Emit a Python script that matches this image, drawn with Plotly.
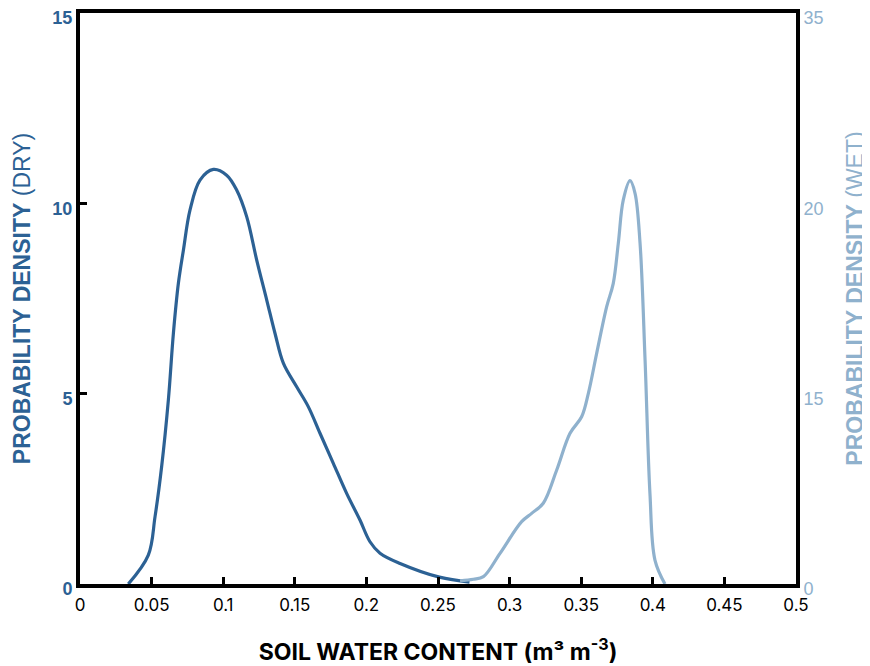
import plotly.graph_objects as go

# Dry-season soil water content density (left axis)
dry_x = [0.0337, 0.0477, 0.0524, 0.057, 0.0617, 0.0652, 0.0687, 0.0722, 0.0768, 0.0838,
         0.0931, 0.1024, 0.1094, 0.1164, 0.1234, 0.1304, 0.1362, 0.142, 0.1513, 0.1594,
         0.1676, 0.1769, 0.1862, 0.1955, 0.2025, 0.2095, 0.2235, 0.251, 0.272]
dry_y = [0.0, 0.76, 1.77, 3.08, 4.83, 6.58, 7.9, 8.77, 9.82, 10.61,
         10.89, 10.74, 10.35, 9.65, 8.51, 7.46, 6.58, 5.8, 5.18, 4.66,
         3.96, 3.17, 2.38, 1.68, 1.11, 0.81, 0.54, 0.18, 0.05]

# Wet-season soil water content density (right axis)
wet_x = [0.2654, 0.2747, 0.2817, 0.2933, 0.3084, 0.3154, 0.3235, 0.3329, 0.3422, 0.3503,
         0.355, 0.3608, 0.3678, 0.3724, 0.3759, 0.3794, 0.3841, 0.3876, 0.3911, 0.3946,
         0.398, 0.4015, 0.4085]
wet_y = [0.2, 0.29, 0.45, 1.88, 3.82, 4.33, 4.95, 6.99, 9.24, 10.25,
         11.69, 14.14, 17.0, 18.43, 20.88, 23.54, 24.72, 23.95, 20.88, 13.73,
         5.56, 1.47, 0.0]

x_ticks = [0, 0.05, 0.1, 0.15, 0.2, 0.25, 0.3, 0.35, 0.4, 0.45, 0.5]
x_ticktext = ["0", "0.05", "0.1", "0.15", "0.2", "0.25", "0.3", "0.35", "0.4", "0.45", "0.5"]
left_ticks = [0, 5, 10, 15]
right_ticks = [0, 35 / 3, 70 / 3, 35]
right_ticktext = ["0", "15", "20", "35"]

DRY = "#2c6194"
WET = "#8fb1cd"

fig = go.Figure()
fig.add_trace(go.Scatter(x=dry_x, y=dry_y, mode="lines",
                         line=dict(color=DRY, width=3.2, shape="spline", smoothing=1.0),
                         showlegend=False))
fig.add_trace(go.Scatter(x=wet_x, y=wet_y, mode="lines", yaxis="y2",
                         line=dict(color=WET, width=3.2, shape="spline", smoothing=1.0),
                         showlegend=False))

fig.update_layout(
    width=870, height=666,
    margin=dict(l=72, r=82, t=5, b=90),
    paper_bgcolor="white", plot_bgcolor="white",
    font=dict(family="Inter", size=16, color="black"),
    xaxis=dict(range=[0, 0.5], tickvals=x_ticks, ticktext=x_ticktext, showgrid=False, zeroline=False,
               showline=True, linecolor="black", linewidth=4, mirror=True, automargin=False,
               ticks="inside", ticklen=7, tickwidth=3, tickcolor="black", ticklabelstandoff=3,
               tickfont=dict(family="Inter", size=17, color="black"),
               title=dict(text="<b>SOIL WATER CONTENT (m³ m<sup>-3</sup>)</b>",
                          font=dict(family="Inter", size=23, color="black"), standoff=30)),
    yaxis=dict(range=[0, 15], tickvals=left_ticks, showgrid=False, zeroline=False,
               showline=True, linecolor="black", linewidth=4, automargin=False,
               ticks="inside", ticklen=7, tickwidth=3, tickcolor="black",
               ticklabelshift=5, ticklabeloverflow="allow",
               tickfont=dict(family="Liberation Sans", size=18, color=DRY, weight="bold"),
               title=dict(text="<b>PROBABILITY DENSITY</b> (DRY)",
                          font=dict(family="Liberation Sans", size=23, color=DRY), standoff=16)),
    yaxis2=dict(range=[0, 35], tickvals=right_ticks, ticktext=right_ticktext, overlaying="y", side="right",
                showgrid=False, zeroline=False, showline=True, linecolor="black", linewidth=4,
                automargin=False, ticks="", ticklabelshift=5, ticklabeloverflow="allow",
                tickfont=dict(family="Liberation Sans", size=18, color=WET),
                title=dict(text="<b>PROBABILITY DENSITY</b> (WET)",
                           font=dict(family="Liberation Sans", size=23, color=WET), standoff=25)),
)

fig.write_html("out.html")
